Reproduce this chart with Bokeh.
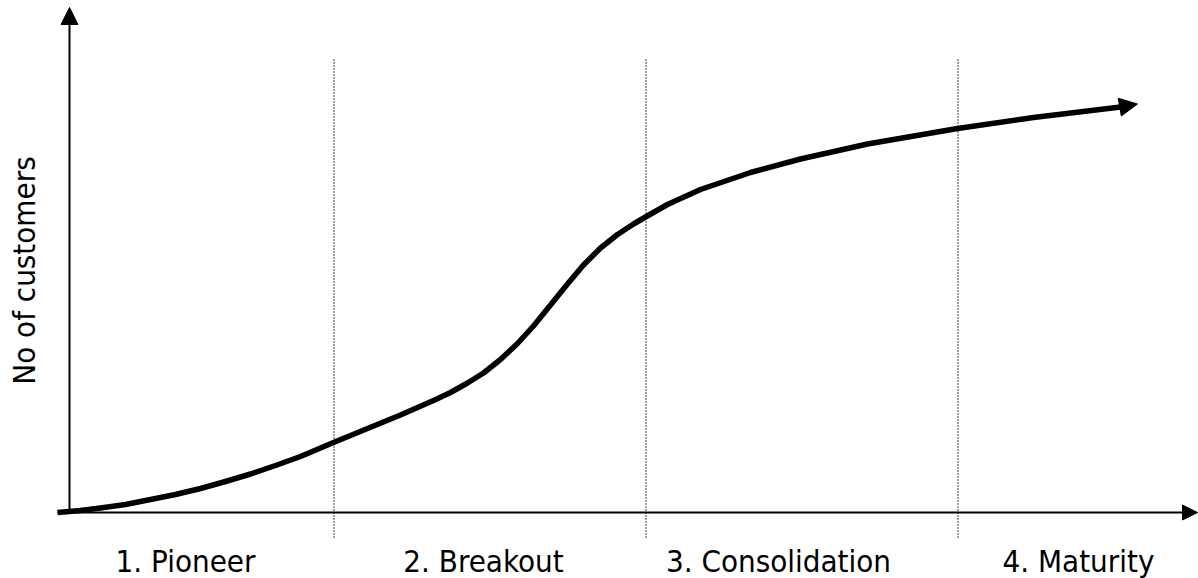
from bokeh.plotting import figure
from bokeh.models import Range1d, Arrow, NormalHead
from bokeh.core.properties import value
from bokeh.embed import file_html
from bokeh.resources import INLINE
import math

# ---- data (abstract units: time on x, number of customers on y) ----
curve_t = [-1.2, 1.1, 3.1, 5.6, 8.1, 10.6, 13.1, 15.6, 18.1, 20.6, 23.1, 26.4,
           29.8, 33.1, 36.4, 38.1, 39.8, 41.4, 43.1, 44.8, 46.4, 48.1, 49.8, 51.4,
           53.1, 54.8, 56.4, 57.6, 59.8, 63.1, 68.1, 73.1, 79.8, 88.8, 96.4, 105.1]
curve_customers = [0.0, 0.2, 0.45, 0.8, 1.3, 1.8, 2.4, 3.1, 3.85, 4.7, 5.6, 7.0,
                   8.4, 9.75, 11.2, 12.0, 12.95, 13.95, 15.3, 16.9, 18.65, 20.75, 22.85, 24.75,
                   26.45, 27.8, 28.85, 29.55, 30.8, 32.3, 34.0, 35.35, 36.85, 38.4, 39.5, 40.55]
curve_tip = [106.8, 40.85]

stage_bounds = [26.45, 57.65, 88.85]
stage_labels = ["1. Pioneer", "2. Breakout", "3. Consolidation", "4. Maturity"]
stage_label_x = [11.6, 41.4, 70.9, 100.9]
stage_label_y = -4.8

x_axis_extent = [-1.2, 112.8]
y_axis_extent = [0.0, 50.5]
divider_extent = [-2.5, 45.5]
y_title = "No of customers"
y_title_pos = [-4.6, 24.2]

FONT = value("DejaVu Sans Condensed")

p = figure(width=1198, height=578, output_backend="svg", toolbar_location=None,
           x_range=Range1d(-6.9, 112.9), y_range=Range1d(-6.6, 51.2),
           x_axis_type=None, y_axis_type=None, min_border=0,
           outline_line_color=None, background_fill_color="white",
           border_fill_color="white")
p.xgrid.visible = False
p.ygrid.visible = False

# dotted stage dividers
p.segment(x0=stage_bounds, y0=[divider_extent[0]] * 3,
          x1=stage_bounds, y1=[divider_extent[1]] * 3,
          line_color="black", line_width=1.5, line_dash="1 2")

# axes with arrows
p.add_layout(Arrow(end=NormalHead(size=15, fill_color="black", line_color="black", line_width=1),
                   x_start=x_axis_extent[0], y_start=0, x_end=x_axis_extent[1], y_end=0,
                   line_color="black", line_width=2))
p.add_layout(Arrow(end=NormalHead(size=17, fill_color="black", line_color="black", line_width=1),
                   x_start=0, y_start=y_axis_extent[0], x_end=0, y_end=y_axis_extent[1],
                   line_color="black", line_width=2))

# growth curve
p.line(curve_t, curve_customers, line_color="black", line_width=5.5, line_join="round")
p.add_layout(Arrow(end=NormalHead(size=18, fill_color="black", line_color="black", line_width=1),
                   x_start=curve_t[-1], y_start=curve_customers[-1],
                   x_end=curve_tip[0], y_end=curve_tip[1],
                   line_color="black", line_width=5.5))

# stage labels
p.text(x=stage_label_x, y=[stage_label_y] * 4, text=stage_labels,
       text_align="center", text_baseline="alphabetic",
       text_font=FONT, text_font_size="31px", text_color="black")

# y title
p.text(x=[y_title_pos[0]], y=[y_title_pos[1]], text=[y_title], angle=math.pi / 2,
       text_align="center", text_baseline="middle",
       text_font=FONT, text_font_size="31px", text_color="black")

open("out.html", "w").write(file_html(p, INLINE))
